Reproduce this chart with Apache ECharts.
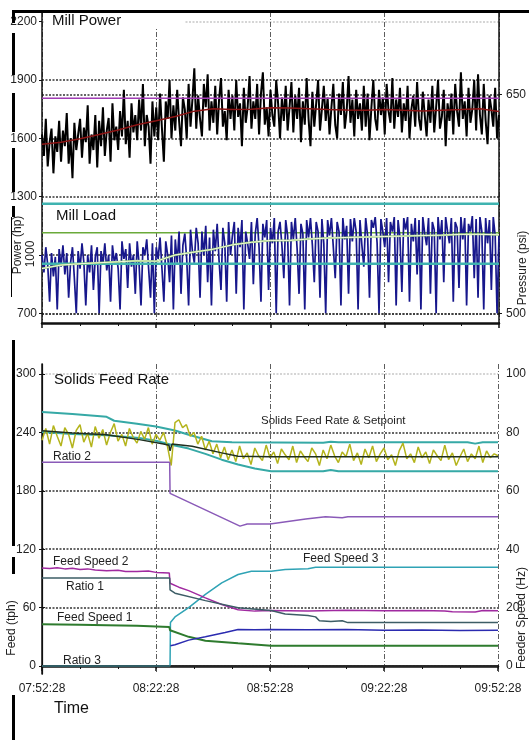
<!DOCTYPE html>
<html>
<head>
<meta charset="utf-8">
<script src="https://cdn.jsdelivr.net/npm/echarts@6/dist/echarts.min.js"></script>
<style>
  html, body { margin: 0; padding: 0; background: #fff; }
  #chart { width: 529px; height: 740px; }
</style>
</head>
<body>
<div id="chart"></div>
<script>
// x axis is minutes after 07:52:28
const timeLabels = ['07:52:28', '08:22:28', '08:52:28', '09:22:28', '09:52:28'];
const powerTicks = [700, 1000, 1300, 1600, 1900, 2200];
const pressureTicks = [500, 650];
const feedTicks = [0, 60, 120, 180, 240, 300];
const speedTicks = [0, 20, 40, 60, 80, 100];

// Mill Power (hp), one sample every 0.5 min
const sampleStep = 0.5;
const millPower = [
  1620, 1510, 1700, 1455, 1580, 1650, 1420, 1610, 1530, 1690,
  1480, 1640, 1560, 1730, 1470, 1600, 1395, 1680, 1540, 1620,
  1700, 1500, 1655, 1580, 1770, 1470, 1620, 1540, 1720, 1450,
  1690, 1560, 1760, 1510, 1640, 1705, 1480, 1780, 1590, 1660,
  1540, 1740, 1610, 1850, 1570, 1690, 1500, 1780, 1630, 1720,
  1590, 1800, 1640, 1880, 1560, 1720, 1660, 1470, 1790, 1610,
  1760, 1590, 1830, 1650, 1480, 1790, 1700, 1900, 1600, 1770,
  1640, 1850, 1690, 1560, 1810, 1750, 1600, 1880, 1660, 1800,
  1960, 1650, 1820, 1700, 1610, 1880, 1760, 1930, 1640, 1790,
  1680, 1870, 1620, 1800, 1910, 1660, 1740, 1590, 1850, 1700,
  1820, 1640, 1900, 1710, 1780, 1560, 1860, 1680, 1760, 1920,
  1650, 1790, 1700, 1880, 1620, 1830, 1940, 1670, 1760, 1610,
  1850, 1720, 1660, 1900, 1780, 1600, 1810, 1690, 1870, 1640,
  1760, 1890, 1630, 1820, 1700, 1860, 1580, 1790, 1670, 1910,
  1700, 1560, 1840, 1660, 1780, 1900, 1640, 1750, 1870, 1690,
  1810, 1620, 1760, 1880, 1670, 1600, 1830, 1720, 1890, 1650,
  1740, 1920, 1680, 1800, 1610, 1850, 1700, 1780, 1640, 1870,
  1660, 1830, 1590, 1760, 1900, 1700, 1640, 1850, 1720, 1810,
  1620, 1880, 1740, 1680, 1910, 1650, 1800, 1710, 1860, 1630,
  1780, 1690, 1870, 1600, 1750, 1820, 1660, 1890, 1700, 1640,
  1840, 1720, 1610, 1800, 1680, 1870, 1630, 1760, 1900, 1650,
  1710, 1850, 1560, 1780, 1690, 1830, 1620, 1880, 1740, 1660,
  1940, 1700, 1790, 1610, 1860, 1680, 1750, 1900, 1640, 1930,
  1720, 1620, 1880, 1690, 1570, 1820, 1750, 1660, 1860, 1600,
  1720
];

// Mill Load, same sampling
const millLoad = [
  1000, 910, 1040, 950, 760, 1010, 890, 990, 720, 1030,
  940, 1050, 900, 1010, 780, 960, 1040, 880, 700, 1020,
  930, 1060, 960, 740, 1000, 910, 1050, 820, 990, 1040,
  700, 1020, 950, 1060, 920, 1000, 760, 1050, 960, 1010,
  930, 720, 1070, 980, 1030, 830, 1060, 940, 1000, 800,
  1070, 950, 740, 1040, 1000, 1080, 930, 780, 1060, 700,
  1040, 980, 1090, 930, 760, 1070, 1000, 860, 1100, 720,
  1080, 960, 1120, 800, 1050, 1110, 980, 740, 1130, 1020,
  960, 1140, 1060, 780, 1120, 1000, 1150, 860, 1090, 740,
  1130, 1020, 1160, 970, 820, 1140, 1060, 760, 1170, 1000,
  1100, 1170, 800, 1140, 1040, 1180, 720, 1120, 1060, 980,
  1170, 850, 1110, 1190, 1040, 760, 1160, 1090, 1180, 820,
  1140, 1060, 1190, 700, 1120, 1170, 1050, 880, 1180, 1100,
  740, 1170, 1080, 1190, 1030, 800, 1160, 1110, 720, 1180,
  1090, 1190, 1050, 860, 1170, 1120, 780, 1185, 1060, 700,
  1180, 1100, 1190, 1040, 880, 1170, 1120, 740, 1190, 1080,
  1150, 800, 1185, 1070, 1190, 1120, 720, 1180, 1050, 940,
  1190, 1100, 780, 1180, 1140, 1195, 1060, 700, 1185, 1120,
  1040, 1190, 860, 1170, 1120, 1195, 740, 1180, 1090, 810,
  1190, 1130, 1195, 760, 1160, 1070, 1190, 900, 1180, 720,
  1195, 1110, 1050, 1190, 800, 1170, 1130, 700, 1195, 1080,
  1180, 860, 1195, 1120, 1060, 1190, 760, 1170, 1140, 830,
  1195, 1080, 1190, 740, 1160, 1120, 1200, 880, 1185, 780,
  1195, 1120, 720, 1190, 1060, 1180, 820, 1195, 1100, 700,
  1100
];

// running averages, one point every 5 min
const avgStep = 5;
const millPowerAvg = [1570, 1580, 1598, 1620, 1643, 1670, 1690, 1712, 1740, 1752, 1748, 1750, 1758,
  1756, 1752, 1748, 1746, 1745, 1748, 1744, 1741, 1745, 1748, 1752, 1738];
const millLoadAvg = [930, 948, 955, 960, 965, 970, 968, 1000, 1015, 1030, 1052, 1065, 1075,
  1075, 1082, 1087, 1090, 1092, 1095, 1097, 1100, 1102, 1106, 1106, 1104];

// limits in the upper panel
const powerLimit = 1806;
const loadHigh = 1263;
const loadTarget = 1114;
const loadLow = 955;

// Solids Feed Rate (tph), one sample every 1 min
const feedStep = 1;
const solidsFeed = [
  232, 244, 228, 247, 236, 226, 245, 238, 224, 242,
  248, 230, 239, 225, 246, 234, 243, 227, 240, 249,
  231, 238, 226, 244, 235, 229, 241, 233, 245, 228,
  238, 232, 240, 226, 206, 250, 253, 245, 248, 236,
  240, 228, 236, 222, 231, 218, 228, 214, 225, 212,
  222, 210, 226, 213, 219, 207, 224, 216, 211, 227,
  214, 220, 208, 223, 217, 212, 226, 209, 221, 215,
  210, 224, 218, 206, 222, 213, 227, 216, 209, 220,
  215, 228, 211, 219, 207, 223, 214, 226, 210, 218,
  224, 212, 217, 206, 221, 229, 213, 218, 209, 225,
  214, 220, 208, 222, 216, 211, 227, 212, 219, 206,
  215, 223, 210, 218, 213, 226, 209, 221, 214, 218,
  216
];

// [minute, value] readings
const setpointHigh = [[0, 261], [8, 259], [17, 256], [19, 252], [25, 249], [30, 246], [35, 242], [38.6, 237.6],
  [44.7, 231], [50, 230], [74, 229.5], [76, 230.5], [78, 230], [112, 230], [114, 228.5], [116, 230], [120, 230]];
const setpointLow = [[0, 240.4], [8, 238.4], [17, 237], [25.6, 234.3], [30, 231.5], [34, 227.4], [38.6, 223.4],
  [43, 218], [47.3, 212], [51.6, 207], [56, 203], [60.3, 200.2], [74, 200], [76, 201.5], [78, 200], [120, 200]];
const feedRate = [[0, 241.7], [8, 239.4], [17, 237.6], [25.6, 232.6], [32, 228], [33.4, 226.8], [33.7, 221],
  [34.2, 228], [39.5, 225.7], [47.3, 219], [51.6, 215.5], [60, 215], [120, 215]];
const ratio2 = [[0, 209.4], [33.6, 209.4], [33.7, 177.4], [52.1, 143.7], [54, 146], [60, 146], [69.4, 151],
  [74.6, 153.4], [79, 152.4], [80.5, 153.4], [120, 153.4]];
const feedSpeed2 = [[0, 100.6], [2, 100.2], [4, 101], [6, 99.8], [8, 100.4], [10, 99.2], [12, 99.8], [14, 98.6],
  [17, 97.9], [20, 98.4], [22, 97.2], [25, 97], [28, 97.6], [30, 96.2], [33.5, 95.5], [33.7, 85], [36, 81],
  [38.6, 77.5], [43, 70], [47.3, 63.2], [51.6, 57.8], [56, 56.4], [60, 57], [70, 56.6], [80, 57.2], [90, 56.8],
  [100, 57], [106, 56.5], [108, 55.8], [114, 55.6], [116, 57], [120, 56.8]];
const ratio1 = [[0, 90.4], [33.6, 90.4], [33.7, 78.2], [35, 74.8], [43, 67.2], [51.6, 59.8], [60.3, 57],
  [64, 53.4], [70, 51.8], [72, 50.5], [73, 46.5], [76, 45.8], [79, 46.5], [80.5, 44.6], [120, 44.6]];
const feedSpeed3 = [[0, 0], [33.7, 0], [33.8, 44.7], [35, 50.4], [38.6, 60], [43, 73.6], [47.3, 85.5],
  [51.6, 94], [55.1, 97.4], [60.3, 97.4], [64, 99.2], [70, 100], [72, 101.5], [120, 101.5]];
const feedSpeed1 = [[0, 43], [10, 42.5], [17, 42], [25, 41.3], [33.5, 40.2], [33.7, 36.8], [38.6, 30],
  [43, 26], [51.6, 23.3], [60.3, 20.8], [120, 20.8]];
const feederSpeed = [[33.8, 20.8], [35, 21.8], [38.6, 26.6], [43, 30], [48.2, 34.5], [51.6, 37.5], [56, 37.2],
  [60, 37.6], [70, 37.2], [80, 37.4], [90, 36.8], [100, 37], [110, 36.6], [120, 36.8]];
const ratio3 = [[0, 0], [120, 0]];

const FONT = '"Liberation Sans", Arial, sans-serif';
const toPairs = (vals, step) => vals.map((v, i) => [i * step, v]);
const hLine = v => [[0, v], [120, v]];
const plain = v => String(v);

const gridDots = { type: [2, 1.5], width: 1.6 };
const vDash = { show: true, lineStyle: { color: '#333', width: 0.8, type: [5, 2, 1, 2] } };

function line(name, data, color, width, x, y, z) {
  return {
    name, type: 'line', data, xAxisIndex: x, yAxisIndex: y,
    showSymbol: false, symbol: 'none', silent: true, z: z || 2,
    lineStyle: { color, width }
  };
}

function timeAxis(grid, withLabels) {
  return {
    type: 'value', gridIndex: grid, min: 0, max: 120, interval: 30,
    axisLine: { lineStyle: { color: '#111', width: 2.5 } },
    axisTick: { length: 5, lineStyle: { color: '#111', width: 1.5 } },
    minorTick: { show: true, splitNumber: 3, length: 3, lineStyle: { color: '#111', width: 1 } },
    splitLine: vDash,
    axisLabel: {
      show: withLabels, margin: 9, color: '#222', fontSize: 12, fontFamily: FONT,
      formatter: v => timeLabels[Math.round(v / 30)]
    }
  };
}

const chart = echarts.init(document.getElementById('chart'));
chart.setOption({
  animation: false,
  backgroundColor: '#fff',
  grid: [
    { left: 42, right: 27, top: 12, height: 311 },
    { left: 42, right: 27, top: 364, height: 310 }
  ],
  xAxis: [
    timeAxis(0, false),
    timeAxis(1, true),
    {
      type: 'value', gridIndex: 1, position: 'top', min: 0, max: 120,
      axisLine: { lineStyle: { color: '#111', width: 1.5 } },
      axisTick: { show: false }, axisLabel: { show: false }, splitLine: { show: false }
    }
  ],
  yAxis: [
    {
      type: 'value', gridIndex: 0, min: 650, max: 2250,
      axisLine: { show: true, lineStyle: { color: '#111', width: 1.5 } },
      axisTick: { show: true, customValues: powerTicks, length: 3, lineStyle: { color: '#111' } },
      axisLabel: {
        customValues: powerTicks.filter(v => v !== 1000), formatter: plain, margin: 5, padding: [8, 0, 0, 0],
        color: '#222', fontSize: 12, fontFamily: FONT
      },
      splitLine: { show: true, lineStyle: Object.assign({ color: ['#333', '#333', '#333', '#333', '#333', '#c8c8c8'] }, gridDots) }
    },
    {
      type: 'value', gridIndex: 0, position: 'right', min: 493.333, max: 706.667,
      axisLine: { show: true, lineStyle: { color: '#111', width: 1.5 } },
      axisTick: { show: true, customValues: pressureTicks, length: 3, lineStyle: { color: '#111' } },
      axisLabel: { customValues: pressureTicks, formatter: plain, margin: 7, padding: [14, 0, 0, 0], color: '#222', fontSize: 12, fontFamily: FONT },
      splitLine: { show: true, lineStyle: Object.assign({ color: '#333' }, gridDots) }
    },
    {
      type: 'value', gridIndex: 1, min: -8.2, max: 310.3,
      axisLine: { show: true, lineStyle: { color: '#111', width: 1.2 } },
      axisTick: { show: true, customValues: feedTicks, length: 3, lineStyle: { color: '#111' } },
      axisLabel: { customValues: feedTicks, formatter: plain, margin: 6, padding: [14, 0, 0, 0], color: '#222', fontSize: 12, fontFamily: FONT },
      splitLine: { show: true, lineStyle: Object.assign({ color: ['#555', '#333', '#333', '#333', '#333', '#c8c8c8'] }, gridDots) }
    },
    {
      type: 'value', gridIndex: 1, position: 'right', min: -2.733, max: 103.433,
      axisLine: { show: true, lineStyle: { color: '#111', width: 1.5 } },
      axisTick: { show: true, customValues: speedTicks, length: 3, lineStyle: { color: '#111' } },
      axisLabel: { customValues: speedTicks, formatter: plain, margin: 8, padding: [14, 0, 0, 0], color: '#222', fontSize: 12, fontFamily: FONT },
      splitLine: { show: false }
    }
  ],
  series: [
    line('Load target', hLine(loadTarget), '#6aaa3a', 1.5, 0, 0),
    line('Mill Load', toPairs(millLoad, sampleStep), '#17178c', 1.7, 0, 0),
    line('Load high', hLine(loadHigh), '#3fb3b0', 2.5, 0, 0),
    line('Load low', hLine(loadLow), '#3fb3b0', 2.5, 0, 0),
    line('Load avg', toPairs(millLoadAvg, avgStep), '#8cc870', 2, 0, 0),
    line('Load avg core', toPairs(millLoadAvg, avgStep), '#f7f8dc', 1, 0, 0),
    line('Mill Power', toPairs(millPower, sampleStep), '#000', 2, 0, 0),
    line('Power limit', hLine(powerLimit), '#a03cb4', 1.5, 0, 0),
    line('Power avg', toPairs(millPowerAvg, avgStep), '#8c1414', 1.5, 0, 0),

    line('Setpoint high', setpointHigh, '#36a9a6', 2, 1, 2),
    line('Setpoint low', setpointLow, '#36a9a6', 2, 1, 2),
    line('Solids Feed Rate', toPairs(solidsFeed, feedStep), '#b4b41c', 1.5, 1, 2),
    line('Feed rate', feedRate, '#1f2f1f', 1.5, 1, 2),
    line('Ratio 2', ratio2, '#8a5ab8', 1.5, 1, 2),
    line('Feed Speed 3', feedSpeed3, '#2fa3b5', 1.5, 1, 2),
    line('Feed Speed 2', feedSpeed2, '#a02aa0', 1.5, 1, 2),
    line('Ratio 1', ratio1, '#3d5d66', 1.5, 1, 2),
    line('Feed Speed 1', feedSpeed1, '#2e7b2e', 2, 1, 2),
    line('Feeder speed', feederSpeed, '#2b2bb0', 1.5, 1, 2),
    line('Ratio 3', ratio3, '#3a3a3a', 1.2, 1, 2, 3)
  ],
  graphic: [
    { type: 'rect', z: 100, shape: { x: 12, y: 10, width: 517, height: 3 }, style: { fill: '#000' } },
    { type: 'rect', z: 100, shape: { x: 44, y: 13, width: 141, height: 16 }, style: { fill: '#fff' } },
    { type: 'rect', z: 100, shape: { x: 12, y: 13, width: 3, height: 10 }, style: { fill: '#000' } },
    { type: 'rect', z: 100, shape: { x: 12, y: 33, width: 3, height: 42 }, style: { fill: '#000' } },
    { type: 'rect', z: 100, shape: { x: 12, y: 93, width: 3, height: 39 }, style: { fill: '#000' } },
    { type: 'rect', z: 100, shape: { x: 12, y: 148, width: 3, height: 44 }, style: { fill: '#000' } },
    { type: 'rect', z: 100, shape: { x: 12, y: 206, width: 3, height: 11 }, style: { fill: '#000' } },
    { type: 'rect', z: 100, shape: { x: 11, y: 217, width: 1, height: 80 }, style: { fill: '#000' } },
    { type: 'rect', z: 100, shape: { x: 12, y: 340, width: 3, height: 206 }, style: { fill: '#000' } },
    { type: 'rect', z: 100, shape: { x: 12, y: 557, width: 3, height: 17 }, style: { fill: '#000' } },
    { type: 'rect', z: 100, shape: { x: 12, y: 695, width: 3, height: 45 }, style: { fill: '#000' } },
    { type: 'text', z: 101, x: 52, y: 21, style: { text: 'Mill Power', font: '15px ' + FONT, fill: '#111', verticalAlign: 'middle' } },
    { type: 'text', z: 101, x: 56, y: 216, style: { text: 'Mill Load', font: '15px ' + FONT, fill: '#111', verticalAlign: 'middle' } },
    { type: 'text', z: 101, x: 54, y: 380, style: { text: 'Solids Feed Rate', font: '15px ' + FONT, fill: '#111', verticalAlign: 'middle' } },
    { type: 'text', z: 101, x: 261, y: 421, style: { text: 'Solids Feed Rate & Setpoint', font: '11.5px ' + FONT, fill: '#222', verticalAlign: 'middle' } },
    { type: 'text', z: 101, x: 53, y: 457, style: { text: 'Ratio 2', font: '12px ' + FONT, fill: '#222', verticalAlign: 'middle' } },
    { type: 'text', z: 101, x: 53, y: 562, style: { text: 'Feed Speed 2', font: '12px ' + FONT, fill: '#222', verticalAlign: 'middle' } },
    { type: 'text', z: 101, x: 66, y: 587, style: { text: 'Ratio 1', font: '12px ' + FONT, fill: '#222', verticalAlign: 'middle' } },
    { type: 'text', z: 101, x: 303, y: 559, style: { text: 'Feed Speed 3', font: '12px ' + FONT, fill: '#222', verticalAlign: 'middle' } },
    { type: 'text', z: 101, x: 57, y: 618, style: { text: 'Feed Speed 1', font: '12px ' + FONT, fill: '#222', verticalAlign: 'middle' } },
    { type: 'text', z: 101, x: 63, y: 661, style: { text: 'Ratio 3', font: '12px ' + FONT, fill: '#222', verticalAlign: 'middle' } },
    { type: 'text', z: 101, x: 54, y: 709, style: { text: 'Time', font: '16px ' + FONT, fill: '#111', verticalAlign: 'middle' } },
    { type: 'text', z: 101, x: 18, y: 245, rotation: Math.PI / 2, style: { text: 'Power (hp)', font: '12px ' + FONT, fill: '#222', align: 'center', verticalAlign: 'middle' } },
    { type: 'text', z: 101, x: 31, y: 254, rotation: Math.PI / 2, style: { text: String(powerTicks[1]), font: '12px ' + FONT, fill: '#222', align: 'center', verticalAlign: 'middle' } },
    { type: 'text', z: 101, x: 523, y: 268, rotation: Math.PI / 2, style: { text: 'Pressure (psi)', font: '12px ' + FONT, fill: '#222', align: 'center', verticalAlign: 'middle' } },
    { type: 'text', z: 101, x: 12, y: 628, rotation: Math.PI / 2, style: { text: 'Feed (tph)', font: '12px ' + FONT, fill: '#222', align: 'center', verticalAlign: 'middle' } },
    { type: 'text', z: 101, x: 522, y: 618, rotation: Math.PI / 2, style: { text: 'Feeder Speed (Hz)', font: '12px ' + FONT, fill: '#222', align: 'center', verticalAlign: 'middle' } }
  ]
});
</script>
</body>
</html>
